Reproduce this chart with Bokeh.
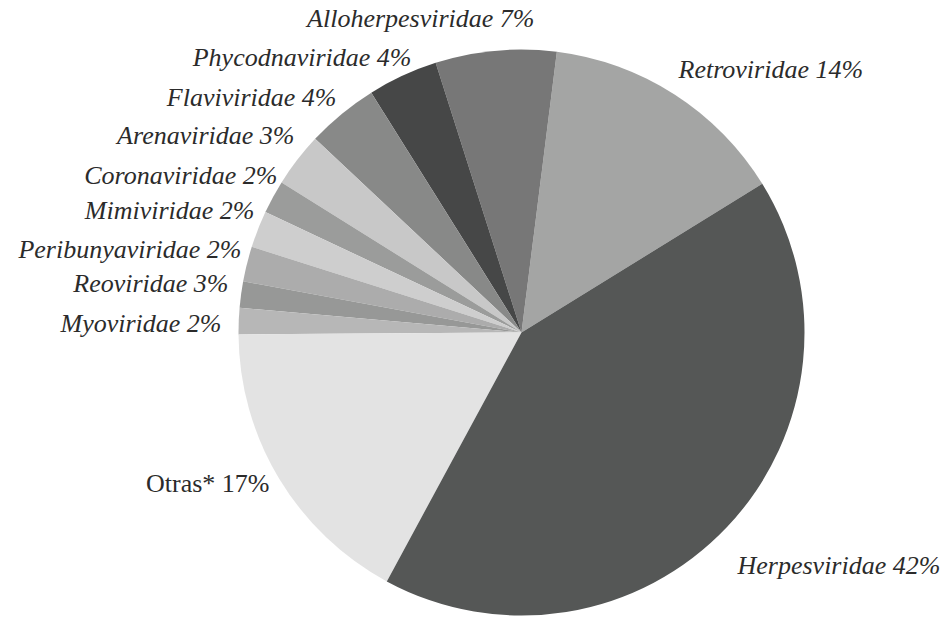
import math
from bokeh.plotting import figure
from bokeh.models import ColumnDataSource, Range1d
from bokeh.embed import file_html
from bokeh.resources import INLINE

# ---- data ----
families = ["Retroviridae", "Alloherpesviridae", "Phycodnaviridae", "Flaviviridae",
            "Arenaviridae", "Coronaviridae", "Mimiviridae", "Peribunyaviridae",
            "Reoviridae", "Myoviridae", "Otras*", "Herpesviridae"]
shares = [14.2, 6.9, 4.0, 4.1, 3.1, 1.9, 2.1, 2.0, 1.5, 1.5, 17.0, 41.7]
label_pct = ["14%", "7%", "4%", "4%", "3%", "2%", "2%", "2%", "3%", "2%", "17%", "42%"]

# ---- styles / layout ----
colors = ["#a4a5a4", "#777777", "#464747", "#888988", "#c8c8c8", "#9b9c9b",
          "#cecece", "#acacac", "#979897", "#b7b7b7", "#e3e3e3", "#555756"]
W, H = 949, 618
def sx(x):
    return x
def sy(y):
    return H - y
cx, cy, R = sx(521), sy(332), 283
start_deg = 31.7

# label anchors (screen px), alignment
label_layout = {
    "Retroviridae": (678, 69, "left"),
    "Alloherpesviridae": (534, 18, "right"),
    "Phycodnaviridae": (411, 57, "right"),
    "Flaviviridae": (336, 97, "right"),
    "Arenaviridae": (294, 135, "right"),
    "Coronaviridae": (277, 175, "right"),
    "Mimiviridae": (254, 210, "right"),
    "Peribunyaviridae": (241, 249, "right"),
    "Reoviridae": (228, 283, "right"),
    "Myoviridae": (221, 323, "right"),
    "Otras*": (269, 483, "right"),
    "Herpesviridae": (737, 565, "left"),
}

total = sum(shares)
starts, ends = [], []
acc = 0.0
for s in shares:
    a0 = math.radians(start_deg + 360.0 * acc / total)
    acc += s
    a1 = math.radians(start_deg + 360.0 * acc / total)
    starts.append(a0)
    ends.append(a1)

src = ColumnDataSource(dict(x=[cx] * len(shares), y=[cy] * len(shares),
                            start=starts, end=ends, color=colors, name=families))

p = figure(width=W, height=H, output_backend="svg", toolbar_location=None,
           x_range=Range1d(0, W), y_range=Range1d(0, H),
           min_border=0, outline_line_color=None)
p.axis.visible = False
p.grid.visible = False
p.background_fill_color = "white"
p.border_fill_color = "white"

p.wedge(x="x", y="y", radius=R, start_angle="start", end_angle="end",
        fill_color="color", line_color=None, source=src)

for fam, pct in zip(families, label_pct):
    lx, ly, al = label_layout[fam]
    style = "normal" if fam == "Otras*" else "italic"
    p.text(x=[sx(lx)], y=[sy(ly)], text=[f"{fam} {pct}"], text_align=al,
           text_baseline="middle", text_font="Liberation Serif",
           text_font_style=style, text_font_size="26px", text_color="#2b2b2b")

open("out.html", "w").write(file_html(p, INLINE))
